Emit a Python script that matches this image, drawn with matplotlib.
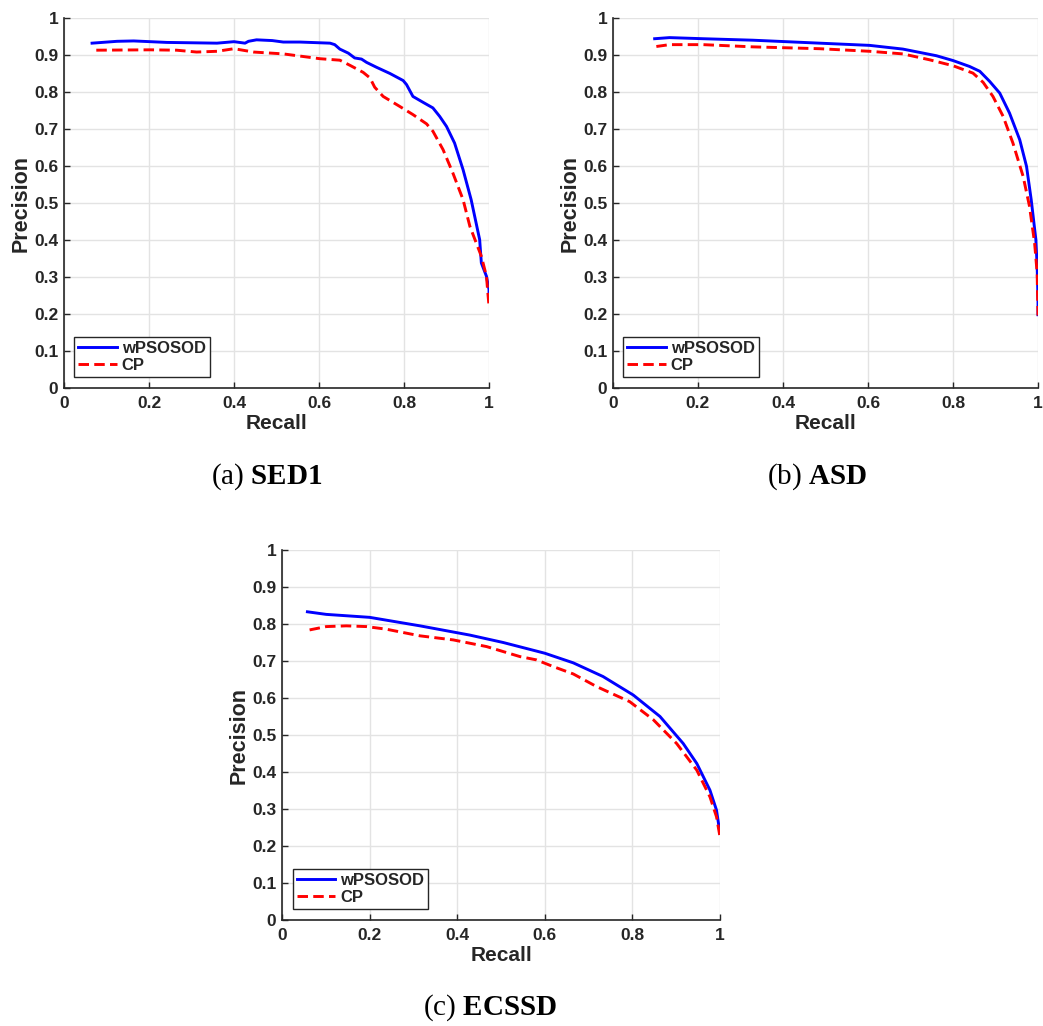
import numpy as np
import matplotlib
matplotlib.use("Agg")
import matplotlib.pyplot as plt

plt.rcParams['font.family'] = ['Liberation Sans', 'DejaVu Sans']
plt.rcParams['mathtext.fontset'] = 'custom'
plt.rcParams['mathtext.rm'] = 'Liberation Serif'
plt.rcParams['mathtext.bf'] = 'Liberation Serif:bold'

# --- SED1 ---
sed1_rec_w = [0.066, 0.125, 0.164, 0.242, 0.36, 0.40, 0.426, 0.434, 0.453, 0.49, 0.516, 0.555, 0.626,
              0.637, 0.649, 0.669, 0.684, 0.70, 0.712, 0.735, 0.767, 0.798, 0.806, 0.821, 0.845, 0.868,
              0.884, 0.90, 0.919, 0.939, 0.958, 0.978, 0.982, 0.994, 1.0, 1.0]
sed1_pre_w = [0.932, 0.937, 0.938, 0.934, 0.932, 0.936, 0.932, 0.937, 0.941, 0.939, 0.935, 0.935, 0.932,
              0.928, 0.916, 0.905, 0.892, 0.889, 0.880, 0.867, 0.85, 0.831, 0.82, 0.788, 0.772, 0.757,
              0.734, 0.707, 0.662, 0.59, 0.509, 0.401, 0.338, 0.302, 0.266, 0.248]
sed1_rec_cp = [0.076, 0.203, 0.265, 0.312, 0.36, 0.40, 0.446, 0.516, 0.602, 0.649, 0.673, 0.704, 0.72,
               0.731, 0.751, 0.79, 0.821, 0.853, 0.868, 0.892, 0.915, 0.939, 0.955, 0.97, 0.982, 0.994, 1.0]
sed1_pre_cp = [0.913, 0.914, 0.913, 0.908, 0.91, 0.917, 0.908, 0.903, 0.89, 0.886, 0.872, 0.853, 0.838,
               0.813, 0.788, 0.761, 0.739, 0.714, 0.694, 0.644, 0.581, 0.509, 0.437, 0.392, 0.356, 0.302, 0.221]

# --- ASD ---
asd_rec_w = [0.098, 0.133, 0.212, 0.329, 0.486, 0.604, 0.682, 0.761, 0.80, 0.839, 0.863, 0.886, 0.91,
             0.933, 0.957, 0.973, 0.984, 0.995, 0.998, 1.0, 1.0]
asd_pre_w = [0.944, 0.947, 0.944, 0.94, 0.932, 0.926, 0.916, 0.898, 0.885, 0.869, 0.856, 0.829, 0.797,
             0.743, 0.671, 0.599, 0.509, 0.401, 0.329, 0.239, 0.198]
asd_rec_cp = [0.102, 0.133, 0.212, 0.329, 0.486, 0.604, 0.682, 0.745, 0.80, 0.847, 0.871, 0.894, 0.918,
              0.941, 0.965, 0.98, 0.992, 0.998, 1.0]
asd_pre_cp = [0.923, 0.928, 0.928, 0.922, 0.917, 0.91, 0.903, 0.887, 0.871, 0.851, 0.826, 0.788, 0.734,
              0.662, 0.572, 0.491, 0.392, 0.311, 0.196]

# --- ECSSD ---
ecssd_rec_w = [0.058, 0.101, 0.20, 0.315, 0.429, 0.505, 0.60, 0.665, 0.733, 0.802, 0.863, 0.916, 0.947,
               0.977, 0.992, 1.0]
ecssd_pre_w = [0.833, 0.826, 0.818, 0.795, 0.770, 0.75, 0.721, 0.695, 0.658, 0.608, 0.55, 0.477, 0.423,
               0.351, 0.297, 0.234]
ecssd_rec_cp = [0.063, 0.101, 0.147, 0.193, 0.238, 0.315, 0.391, 0.467, 0.543, 0.581, 0.619, 0.665, 0.718,
                0.794, 0.848, 0.901, 0.947, 0.977, 0.992, 1.0]
ecssd_pre_cp = [0.784, 0.793, 0.795, 0.793, 0.786, 0.768, 0.757, 0.739, 0.712, 0.703, 0.685, 0.665, 0.631,
                0.59, 0.541, 0.477, 0.405, 0.333, 0.279, 0.225]

series_labels = ['wPSOSOD', 'CP']
captions = ['(a) ', '(b) ', '(c) ']
datasets = ['SED1', 'ASD', 'ECSSD']
xticks = [0, 0.2, 0.4, 0.6, 0.8, 1]
xticklabels = ['0', '0.2', '0.4', '0.6', '0.8', '1']
yticks = [0, 0.1, 0.2, 0.3, 0.4, 0.5, 0.6, 0.7, 0.8, 0.9, 1]
yticklabels = ['0', '0.1', '0.2', '0.3', '0.4', '0.5', '0.6', '0.7', '0.8', '0.9', '1']

curves = [(sed1_rec_w, sed1_pre_w, sed1_rec_cp, sed1_pre_cp),
          (asd_rec_w, asd_pre_w, asd_rec_cp, asd_pre_cp),
          (ecssd_rec_w, ecssd_pre_w, ecssd_rec_cp, ecssd_pre_cp)]

W, H = 1043, 1026
fig = plt.figure(figsize=(W / 100, H / 100), dpi=100)
# axes boxes in pixels: left, top, right, bottom
boxes = [(64, 18, 489, 388), (613, 18, 1038, 388), (282, 550, 720, 920)]
cap_pos = [(267, 477), (817, 477), (490, 1008)]
dark = '#262626'

for i, (l, t, r, b) in enumerate(boxes):
    ax = fig.add_axes([l / W, 1 - b / H, (r - l) / W, (b - t) / H])
    rw, pw, rc, pc = curves[i]
    ax.plot(rw, pw, color='blue', lw=2.1, label=series_labels[0])
    ax.plot(rc, pc, color='red', lw=2.1, ls=(0, (3.6, 1.8)), label=series_labels[1])
    ax.set_xlim(0, 1)
    ax.set_ylim(0, 1)
    ax.set_xticks(xticks)
    ax.set_xticklabels(xticklabels)
    ax.set_yticks(yticks)
    ax.set_yticklabels(yticklabels)
    ax.grid(True, color='#e3e3e3', lw=1)
    ax.set_axisbelow(True)
    for s in ['top', 'right']:
        ax.spines[s].set_visible(False)
    for s in ['left', 'bottom']:
        ax.spines[s].set_color(dark)
        ax.spines[s].set_linewidth(1.2)
    ax.tick_params(direction='in', length=4, width=1, colors=dark, labelsize=12.5, pad=4)
    ax.tick_params(axis='x', pad=6)
    for lab in ax.get_xticklabels() + ax.get_yticklabels():
        lab.set_fontweight('bold')
    ax.set_xlabel('Recall', fontsize=15, fontweight='bold', color=dark, labelpad=2)
    ax.set_ylabel('Precision', fontsize=15.5, fontweight='bold', color=dark, labelpad=2)
    leg = ax.legend(loc='lower left', bbox_to_anchor=(0.024, 0.03), borderaxespad=0,
                    fancybox=False, edgecolor=dark, framealpha=1,
                    prop={'weight': 'bold', 'size': 12}, handlelength=2.3,
                    handletextpad=0.3, labelspacing=0.1, borderpad=0.25)
    leg.get_frame().set_linewidth(1)
    for txt in leg.get_texts():
        txt.set_color(dark)
    cx, cy = cap_pos[i]
    fig.text(cx / W, 1 - cy / H, captions[i] + r'$\mathbf{' + datasets[i] + '}$',
             ha='center', va='center', fontsize=21, family='Liberation Serif')

fig.savefig('out.png', dpi=100)
